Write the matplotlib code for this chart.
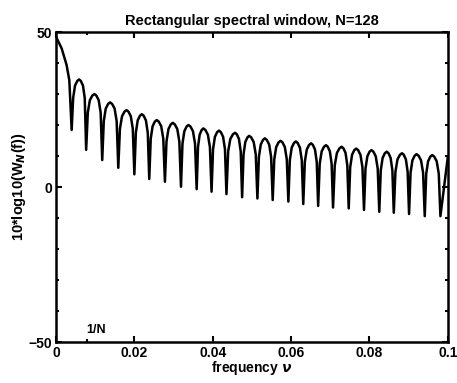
import numpy as np
import matplotlib
matplotlib.use('Agg')
from matplotlib import pyplot as plt

# values (frequency, dB)
main_f = [0.0, 0.00145, 0.0027, 0.0034]
main_db = [48.5, 44.7, 39.4, 34.5]

null_f = [0.0040, 0.0077, 0.0118, 0.0159, 0.0200, 0.0238, 0.0278, 0.0319,
          0.0359, 0.0397, 0.0435, 0.0475, 0.0514, 0.0553, 0.0593, 0.0631,
          0.0669, 0.0707, 0.0747, 0.0786, 0.0825, 0.0862, 0.0901, 0.0941,
          0.0981]
null_db = [18.4, 12.0, 8.7, 6.2, 4.1, 2.6, 1.7, 0.1, -0.7, -1.5, -2.3, -3.3,
           -3.7, -4.2, -4.7, -5.5, -6.1, -6.6, -6.9, -7.4, -8.0, -8.3, -8.7,
           -9.4, -9.4]

peak_f = [0.0059, 0.0098, 0.0138, 0.0180, 0.0219, 0.0257, 0.0298, 0.0338,
          0.0376, 0.0416, 0.0457, 0.0493, 0.0533, 0.0573, 0.0612, 0.0651,
          0.0689, 0.0729, 0.0766, 0.0805, 0.0844, 0.0883, 0.0920, 0.0960]
peak_db = [34.7, 30.0, 27.3, 24.8, 23.5, 21.6, 20.7, 20.0, 18.9, 18.2, 17.5,
           16.5, 15.7, 14.9, 14.7, 14.1, 13.5, 13.0, 12.4, 11.9, 11.4, 10.9,
           10.6, 10.3]

end_f = [0.1]
end_db = [9.8]

xticks = [0, 0.02, 0.04, 0.06, 0.08, 0.1]
xlabels = ['0', '0.02', '0.04', '0.06', '0.08', '0.1']
yticks = [-50, 0, 50]

# lobe outline as read from the arches: (fraction of the way null->peak, dB below peak)
arch = [(0.2, 6.0), (0.45, 2.0), (0.75, 0.5)]

f = list(main_f)
d = list(main_db)
for i in range(len(peak_f)):
    f.append(null_f[i]); d.append(null_db[i])
    for t, drop in arch:
        f.append(null_f[i] + t * (peak_f[i] - null_f[i])); d.append(peak_db[i] - drop)
    f.append(peak_f[i]); d.append(peak_db[i])
    for t, drop in arch[::-1]:
        f.append(null_f[i + 1] - t * (null_f[i + 1] - peak_f[i])); d.append(peak_db[i] - drop)
f.append(null_f[-1]); d.append(null_db[-1])
f += end_f
d += end_db

plt.rcParams['font.family'] = ['Liberation Sans', 'DejaVu Sans']
plt.rcParams['font.weight'] = 'bold'

fig = plt.figure(figsize=(4.57, 3.83), dpi=100)
ax = fig.add_axes([0.1225, 0.107, 0.8575, 0.8094])

ax.plot(f, d, color='black', linewidth=1.8, solid_joinstyle='round')

ax.set_xlim(0, 0.1)
ax.set_ylim(-50, 50)
ax.set_xticks(xticks)
ax.set_xticklabels(xlabels)
ax.set_yticks(yticks)
ax.set_yticks(np.arange(-40, 50, 10), minor=True)
ax.set_xticks([1 / 128.0], minor=True)
ax.tick_params(which='both', direction='in', top=True, right=True,
               labelsize=10, width=1.5, pad=3)
ax.tick_params(which='major', length=4)
ax.tick_params(which='minor', length=2)
for s in ax.spines.values():
    s.set_linewidth(1.8)

ax.text(1 / 128.0, -47, '1/N', fontsize=9, fontweight='bold')
ax.set_title('Rectangular spectral window, N=128', fontsize=10.5,
             fontweight='bold', pad=5)
ax.set_xlabel(r'frequency $\nu$', fontsize=10, fontweight='bold', labelpad=-1)
ax.set_ylabel(r'10*log10(W$_N$(f))', fontsize=10.5, fontweight='bold', labelpad=0)

plt.savefig('out.png', dpi=100)
